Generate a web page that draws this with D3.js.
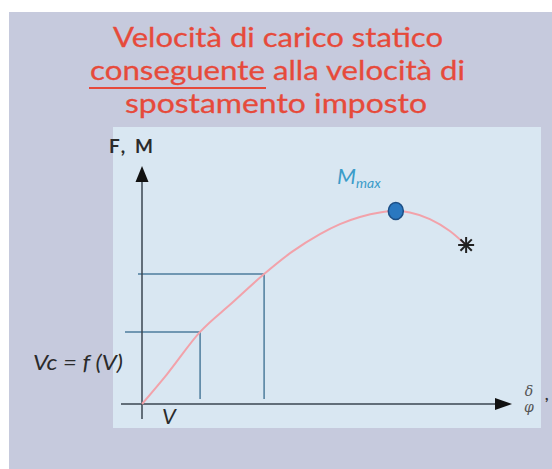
<!DOCTYPE html>
<html><head><meta charset="utf-8">
<script src="https://cdn.jsdelivr.net/npm/d3@7"></script>
<style>html,body{margin:0;padding:0;background:#fff;}svg{display:block;}</style>
</head><body>
<svg id="c" width="552" height="469"></svg>
<script>
// ---- data ----
const titleLines = ["Velocità di carico statico", "conseguente alla velocità di", "spostamento imposto"];
const curveX = [0, 6.8, 15.7, 24.3, 33.0, 40.5, 48.1, 53.5, 58.9, 64.3, 68.6, 72.4, 77.8, 83.2, 87.6];
const curveY = [0, 12.6, 30.3, 42.4, 54.6, 63.9, 71.4, 75.6, 78.6, 80.5, 81.1, 80.5, 77.7, 72.7, 66.8];
const guideX = [15.7, 33.0];     // V, 2nd speed
const guideY = [30.3, 54.6];     // Vc levels
const peakPoint = [68.6, 81.1];  // Mmax
const endPoint = [87.6, 66.8];   // failure (*)

const svg = d3.select("#c");
// background panel
svg.append("rect").attr("x", 9).attr("y", 12).attr("width", 543).attr("height", 457).attr("fill", "#c6cadd");
svg.append("rect").attr("x", 113).attr("y", 127).attr("width", 428).attr("height", 301).attr("fill", "#d9e7f2");

const x = d3.scaleLinear().domain([0, 100]).range([142, 512]);
const y = d3.scaleLinear().domain([0, 100]).range([404, 166]);

// title
const tcol = "#e64a3b";
const tFont = "Lato, 'Open Sans', sans-serif";
function titleText(str, xx, yy, w, anchor) {
  svg.append("text").attr("x", xx).attr("y", yy).attr("text-anchor", anchor)
    .attr("font-family", tFont).attr("font-size", 27).attr("fill", tcol)
    .attr("stroke", tcol).attr("stroke-width", 0.3)
    .attr("textLength", w).attr("lengthAdjust", "spacingAndGlyphs").text(str);
}
titleText(titleLines[0], 278, 47, 330, "middle");
const l2 = titleLines[1].split(" ");
titleText(l2[0], 90, 80, 175, "start");
titleText(l2.slice(1).join(" "), 273, 80, 192, "start");
titleText(titleLines[2], 276, 113, 302, "middle");
// underline under "conseguente"
svg.append("line").attr("x1", 89).attr("x2", 266).attr("y1", 88).attr("y2", 88).attr("stroke", tcol).attr("stroke-width", 2);

// guide lines
const gcol = "#4d7c9c";
const gStart = [125, 138];
guideX.forEach((gx, i) => {
  svg.append("line").attr("x1", gStart[i]).attr("x2", x(gx)).attr("y1", y(guideY[i])).attr("y2", y(guideY[i]))
    .attr("stroke", gcol).attr("stroke-width", 1.5);
  svg.append("line").attr("x1", x(gx)).attr("x2", x(gx)).attr("y1", y(guideY[i])).attr("y2", 399)
    .attr("stroke", gcol).attr("stroke-width", 1.5);
});

// axes
const acol = "#3a4651";
svg.append("line").attr("x1", 121).attr("x2", 497).attr("y1", y(0)).attr("y2", y(0)).attr("stroke", acol).attr("stroke-width", 1.5);
svg.append("path").attr("d", `M512,${y(0)} L495,${y(0)-6} L495,${y(0)+6} Z`).attr("fill", "#111");
svg.append("line").attr("x1", x(0)).attr("x2", x(0)).attr("y1", 419).attr("y2", 180).attr("stroke", acol).attr("stroke-width", 1.5);
svg.append("path").attr("d", `M${x(0)},166 L${x(0)-6.5},182 L${x(0)+6.5},182 Z`).attr("fill", "#111");

// curve
const line = d3.line().x(d => x(d[0])).y(d => y(d[1])).curve(d3.curveMonotoneX);
svg.append("path").datum(curveX.map((v, i) => [v, curveY[i]])).attr("d", line)
  .attr("fill", "none").attr("stroke", "#f2a2aa").attr("stroke-width", 2);

// peak
svg.append("ellipse").attr("cx", x(peakPoint[0])).attr("cy", y(peakPoint[1])).attr("rx", 7.5).attr("ry", 8.5)
  .attr("fill", "#2a78c0").attr("stroke", "#1c4f86").attr("stroke-width", 1.5);
// star
const sx = x(endPoint[0]), sy = y(endPoint[1]);
const sg = svg.append("g").attr("stroke", "#222").attr("stroke-width", 2);
[0, 45, 90, 135].forEach(a => {
  const r = 8, rad = a * Math.PI / 180;
  sg.append("line").attr("x1", sx - r * Math.cos(rad)).attr("y1", sy - r * Math.sin(rad))
    .attr("x2", sx + r * Math.cos(rad)).attr("y2", sy + r * Math.sin(rad));
});

// labels
const lf = "Lato, 'Open Sans', sans-serif";
svg.append("text").attr("x", 109).attr("y", 153).attr("font-family", lf).attr("font-weight", "bold")
  .attr("font-size", 19).attr("fill", "#2b2b2b").attr("textLength", 44).attr("lengthAdjust", "spacing").text("F, M");
const mm = svg.append("text").attr("x", 337).attr("y", 184).attr("font-family", lf).attr("font-style", "italic").attr("fill", "#3b9cc9");
mm.append("tspan").attr("font-size", 22).text("M");
mm.append("tspan").attr("font-size", 14).attr("dy", 4).text("max");
svg.append("text").attr("x", 33).attr("y", 370).attr("font-family", lf).attr("font-style", "italic")
  .attr("font-size", 22).attr("fill", "#2b2b2b").attr("textLength", 90).attr("lengthAdjust", "spacingAndGlyphs").text("Vc = f (V)");
svg.append("text").attr("x", 162).attr("y", 424).attr("font-family", lf).attr("font-style", "italic")
  .attr("font-size", 22).attr("fill", "#2b2b2b").text("V");
svg.append("text").attr("x", 529).attr("y", 396).attr("text-anchor", "middle").attr("font-family", "'DejaVu Serif', serif").attr("font-style", "italic")
  .attr("font-size", 14).attr("fill", "#555").text("δ");
svg.append("text").attr("x", 529).attr("y", 412).attr("text-anchor", "middle").attr("font-family", "'DejaVu Serif', serif").attr("font-style", "italic")
  .attr("font-size", 14).attr("fill", "#555").text("φ");
svg.append("text").attr("x", 545).attr("y", 400).attr("font-family", lf).attr("font-weight", "bold")
  .attr("font-size", 15).attr("fill", "#333").text(",");
</script>
</body></html>
